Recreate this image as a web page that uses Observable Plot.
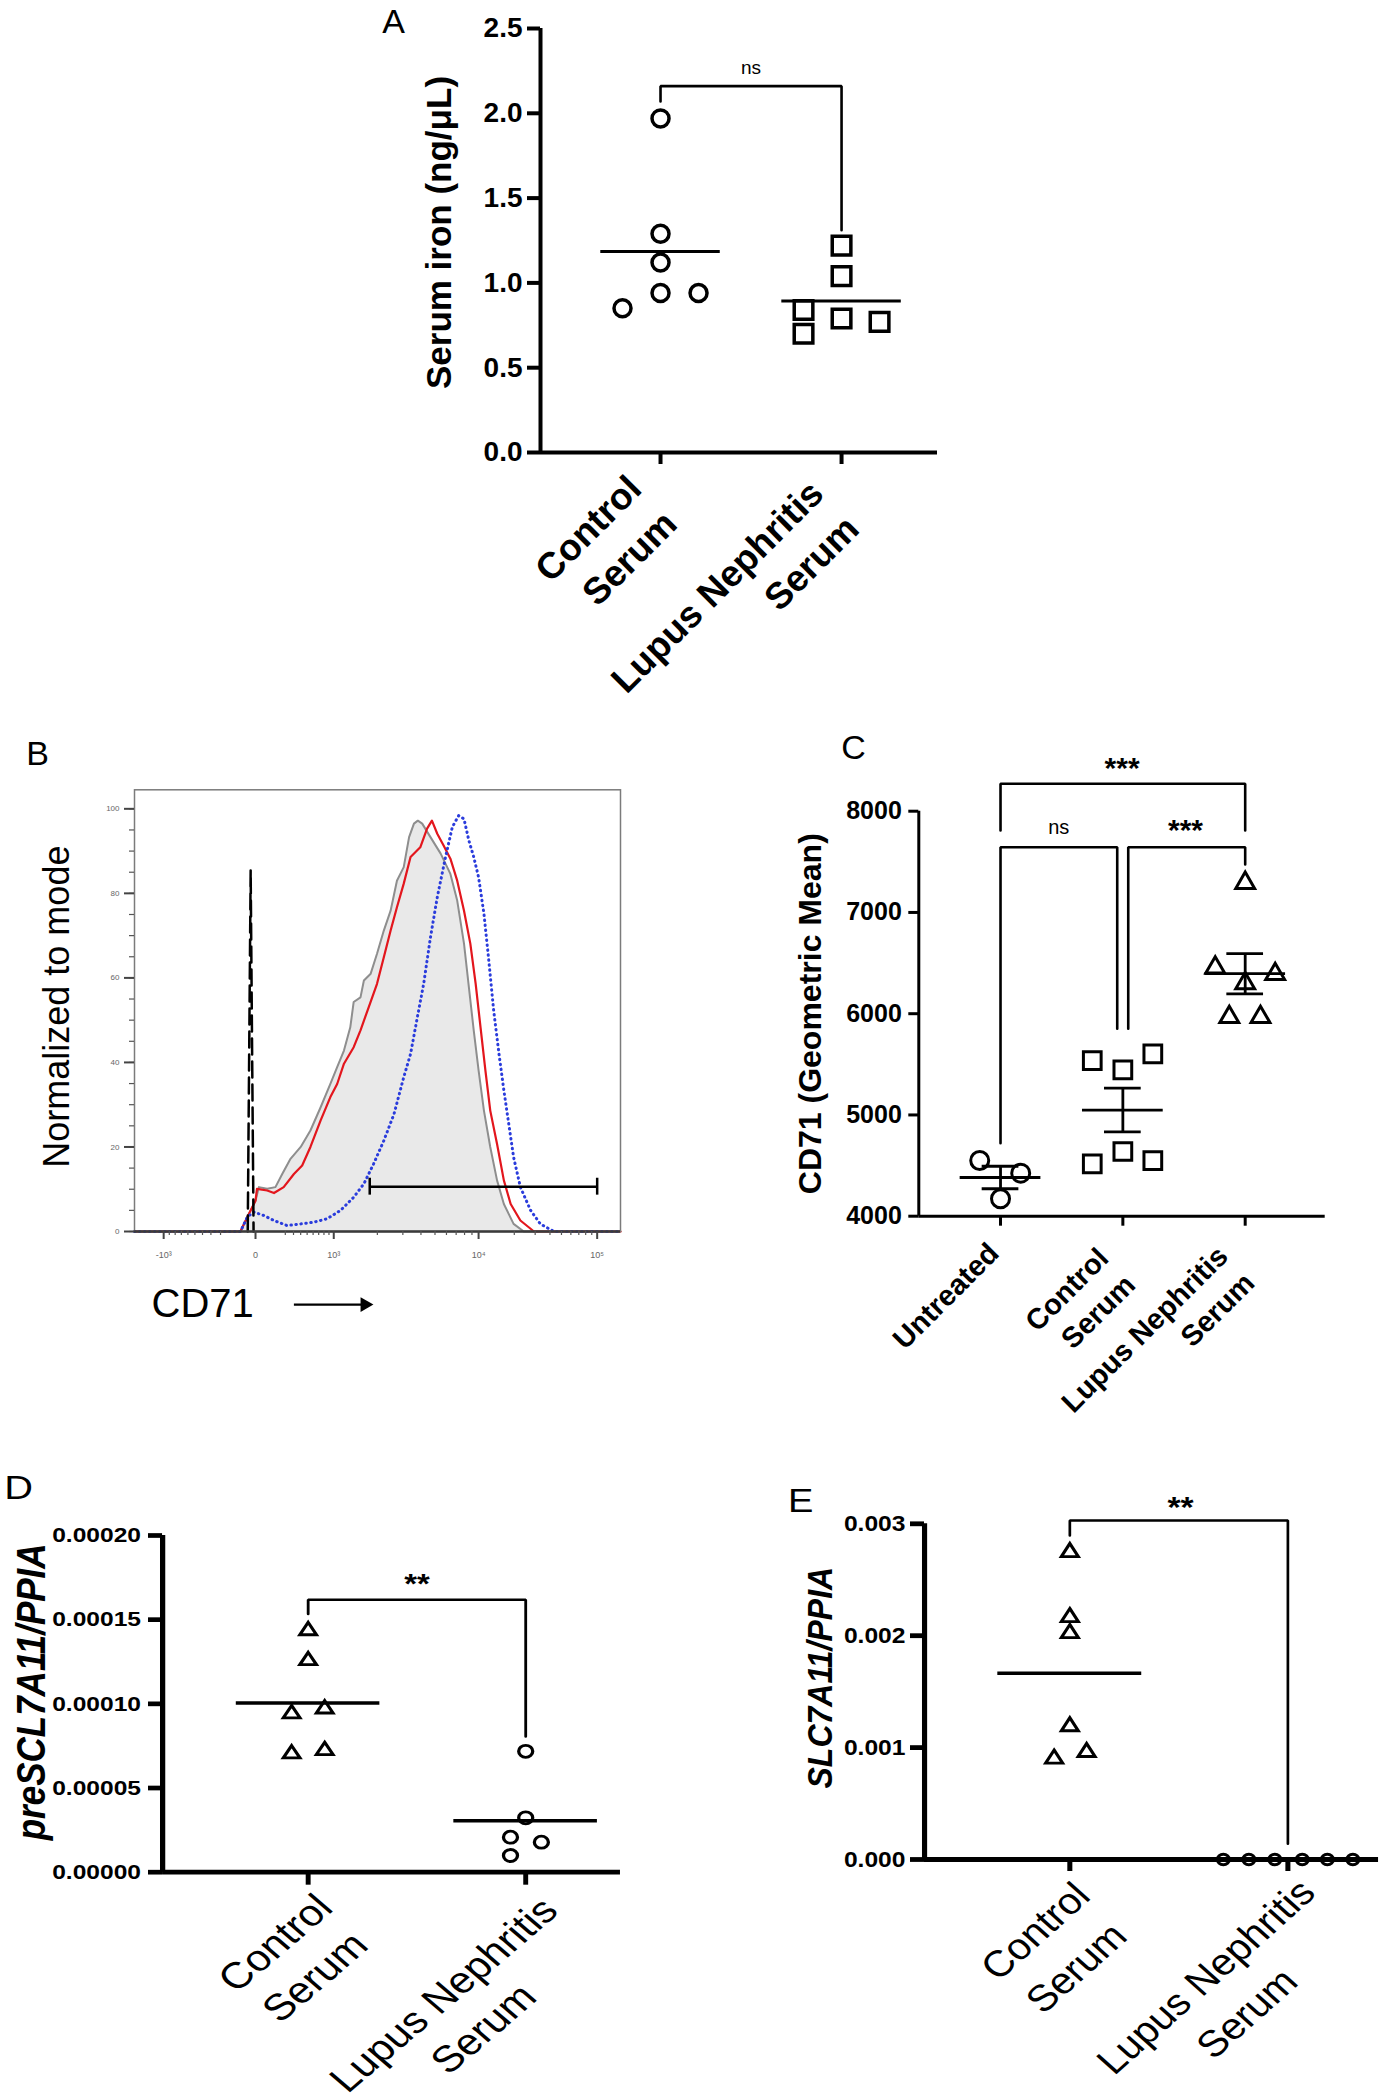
<!DOCTYPE html>
<html>
<head>
<meta charset="utf-8">
<script src="https://cdn.jsdelivr.net/npm/d3@7"></script>
<script src="https://cdn.jsdelivr.net/npm/@observablehq/plot@0.6"></script>
<style>
  body { margin: 0; background: #fff; }
  #fig { position: relative; width: 1386px; height: 2100px; background: #fff; overflow: hidden; }
  .panel { position: absolute; transform-origin: 0 0; }
</style>
</head>
<body>
<div id="fig"></div>
<script>
// ================= DATA =================
// Panel A – serum iron
const aCategories = ["Control\nSerum", "Lupus Nephritis\nSerum"];
const aControl = [1.97, 1.29, 1.12, 0.94, 0.94, 0.85];
const aControlDodge = [0, 0, 0, 0, 0.21, -0.21];
const aLupus = [1.22, 1.04, 0.79, 0.84, 0.70, 0.77];
const aLupusDodge = [0, 0, 0, -0.21, -0.21, 0.21];
const aYTicks = [0, 0.5, 1.0, 1.5, 2.0, 2.5];
const aSig = [{label: "ns", from: 1, to: 2, level: 2.16, ends: [2.07, 1.31], at: [1.5, 2.27]}];

// Panel B – CD71 histograms (x in display channel 0–1000, y in % of mode)
const bUntreated = [[0,0],[218,0],[232,3.4],[249,7.3],[256,10.5],[273,10.1],[290,10.5],[304,13.6],[321,17.2],[342,20.0],[362,23.9],[383,29.4],[403,34.9],[417,38.9],[431,42.8],[444,48.3],[451,54.3],[465,55.4],[472,59.4],[486,61.0],[499,65.7],[513,71.2],[527,75.9],[540,83.0],[554,86.2],[565,93.3],[575,96.5],[583,97.2],[592,96.5],[609,93.3],[630,89.4],[650,84.6],[664,78.3],[678,68.1],[688,57.8],[698,47.6],[708,38.1],[719,28.6],[732,20.0],[746,12.1],[760,6.5],[780,1.8],[801,0],[1000,0]];
const bControlSerum = [[0,0],[218,0],[232,3.4],[249,7.3],[252,10.1],[273,9.7],[287,9.1],[307,10.5],[328,13.6],[345,15.6],[362,20.0],[383,26.3],[403,31.8],[417,34.9],[431,39.7],[451,43.6],[465,47.6],[482,53.1],[499,58.6],[513,64.9],[527,71.2],[540,76.7],[554,82.3],[568,88.6],[588,90.9],[602,95.3],[612,97.2],[623,94.1],[636,91.3],[650,88.2],[664,83.0],[678,75.9],[691,68.1],[702,58.6],[712,48.3],[722,38.1],[732,28.6],[746,20.7],[760,12.1],[774,6.5],[794,2.6],[822,0],[1000,0]];
const bLupusSerum = [[0,0],[218,0],[232,3.4],[245,4.6],[266,3.8],[287,2.6],[314,1.4],[342,1.8],[369,2.2],[396,3.0],[424,5.0],[451,8.1],[472,11.3],[492,16.0],[513,21.5],[534,27.8],[554,36.5],[568,42.0],[582,50.7],[595,58.6],[609,69.6],[623,79.1],[640,88.6],[654,95.7],[667,98.4],[678,97.6],[688,92.5],[698,88.6],[708,83.8],[719,75.2],[729,64.1],[739,52.3],[750,42.0],[760,33.4],[770,25.5],[780,17.6],[794,10.5],[815,5.0],[835,1.8],[863,0],[1000,0]];
const bUnstained = [[233,0],[239,85.4],[245,0]];
const bGate = {x1: 484, x2: 952, y: 10.6};
const bXTicks = [60, 249, 410, 708, 952];
const bXTickLabels = ["-10³", "0", "10³", "10⁴", "10⁵"];
const bYTicks = [0, 20, 40, 60, 80, 100];

// Panel C – CD71 geometric mean
const cCategories = ["Untreated", "Control\nSerum", "Lupus Nephritis\nSerum"];
const cUntreated = [4550, 4425, 4172];
const cUntreatedDodge = [-0.17, 0.165, 0];
const cControl = [5537, 5445, 5603, 4517, 4639, 4550];
const cControlDodge = [-0.25, 0, 0.245, -0.25, 0, 0.245];
const cLupus = [7291, 6456, 6391, 6299, 5967, 5967];
const cLupusDodge = [0, -0.245, 0.245, 0, -0.13, 0.125];
const cYTicks = [4000, 5000, 6000, 7000, 8000];
const cSig = [
  {label: "***", from: 1, to: 3, level: 8271, ends: [7809, 7809], at: [1.994, 8434]},
  {label: "ns", from: 1, to: 1.954, level: 7644, ends: [4721, 5851], at: [1.476, 7842]},
  {label: "***", from: 2.044, to: 3, level: 7644, ends: [5851, 7474], at: [2.512, 7829]}
];

// Panel D – preSCL7A11/PPIA
const dCategories = ["Control\nSerum", "Lupus Nephritis\nSerum"];
const dControl = [0.0001435, 0.0001257, 0.0000941, 0.0000970, 0.0000703, 0.0000723];
const dControlDodge = [0, 0, -0.076, 0.076, -0.076, 0.076];
const dLupus = [0.0000718, 0.0000323, 0.0000208, 0.0000178, 0.0000099];
const dLupusDodge = [0, 0, -0.07, 0.072, -0.07];
const dYTicks = [0, 0.00005, 0.0001, 0.00015, 0.0002];
const dSig = [{label: "**", from: 1, to: 2, level: 0.0001618, ends: [0.0001534, 0.0000806], at: [1.5, 0.0001722]}];

// Panel E – SLC7A11/PPIA
const eCategories = ["Control\nSerum", "Lupus Nephritis\nSerum"];
const eControl = [0.002746, 0.002165, 0.002022, 0.001189, 0.000900, 0.000959];
const eControlDodge = [0, 0, 0, 0, -0.072, 0.077];
const eLupus = [0, 0, 0, 0, 0, 0];
const eLupusDodge = [-0.296, -0.179, -0.06, 0.066, 0.181, 0.298];
const eYTicks = [0, 0.001, 0.002, 0.003];
const eSig = [{label: "**", from: 1, to: 2, level: 0.003029, ends: [0.002896, 0.00014], at: [1.508, 0.003164]}];

// ================= HELPERS =================
const FONT = '"Liberation Sans", Arial, Helvetica, sans-serif';
const STYLE = {fontFamily: FONT, color: "black", background: "transparent", overflow: "visible"};
const fig = document.getElementById("fig");
// place a plot; sx = horizontal stretch of the panel (the source figure's lower panels are widened)
function place(svg, left, top, innerWidth, height, sx = 1) {
  const div = document.createElement("div");
  div.className = "panel";
  Object.assign(div.style, {left: left + "px", top: top + "px", width: innerWidth + "px", height: height + "px"});
  if (sx !== 1) div.style.transform = `scaleX(${sx})`;
  div.appendChild(svg);
  fig.appendChild(div);
}
const ctx = document.createElement("canvas").getContext("2d");
function textWidth(s, size, weight) { ctx.font = `${weight} ${size}px ${FONT}`; return ctx.measureText(s).width; }

function sigMarks(sig, sw, nsSize, starSize) {
  const marks = [];
  for (const s of sig) {
    const pts = [[s.from, s.ends[0]], [s.from, s.level], [s.to, s.level], [s.to, s.ends[1]]];
    marks.push(Plot.line(pts, {x: d => d[0], y: d => d[1], stroke: "black", strokeWidth: sw, strokeLinejoin: "miter"}));
    const star = s.label.includes("*");
    marks.push(Plot.text([s.label], {x: () => s.at[0], y: () => s.at[1],
      fontSize: star ? starSize : nsSize, fontWeight: star ? "bold" : "normal",
      dy: star ? 0.05 * starSize : 0}));
  }
  return marks;
}
function meanLine(values, cx, hw, sw) {
  return Plot.ruleY([d3.mean(values)], {x1: cx - hw, x2: cx + hw, strokeWidth: sw});
}
function meanSem(values, cx, hw, capHw, sw) {
  const m = d3.mean(values), sem = d3.deviation(values) / Math.sqrt(values.length);
  return [
    Plot.ruleY([m], {x1: cx - hw, x2: cx + hw, strokeWidth: sw}),
    Plot.ruleY([m - sem, m + sem], {x1: cx - capHw, x2: cx + capHw, strokeWidth: sw}),
    Plot.ruleX([cx], {y1: m - sem, y2: m + sem, strokeWidth: sw})
  ];
}
// Rotated (-45°) multi-line category labels; `ink` = top-right end of the first line relative to the tick (px)
function rotatedLabels(labels, yBase, {align, fontSize, fontWeight = "normal", lineHeight, ink}) {
  const d = [Math.SQRT1_2, -Math.SQRT1_2], n = [Math.SQRT1_2, Math.SQRT1_2];
  const err = [0.5 * fontSize, 0.3 * fontSize];
  const marks = [];
  labels.forEach((label, k) => {
    const lines = label.split("\n");
    const W = d3.max(lines, l => textWidth(l, fontSize, fontWeight));
    const back = align === "middle" ? W / 2 : 0;
    const ex = ink[k][0] - err[0], ey = ink[k][1] - err[1];
    lines.forEach((line, i) => {
      const off = i * lineHeight * fontSize;
      marks.push(Plot.text([line], {
        x: () => k + 1, y: () => yBase,
        dx: ex - d[0] * back + n[0] * off,
        dy: ey - d[1] * back + n[1] * off,
        rotate: -45, textAnchor: align, lineAnchor: "top", fontSize, fontWeight
      }));
    });
  });
  return marks;
}
const dot = (values, cx, dodge, symbol, r, sw) =>
  Plot.dot(values, {x: (d, i) => cx + dodge[i], y: d => d, symbol, r, stroke: "black", strokeWidth: sw, fill: "none"});
const letter = (s, dx, dy) => Plot.text([s], {frameAnchor: "top-left", textAnchor: "middle", lineAnchor: "middle", dx, dy, fontSize: 34});
const yTitle = (s, dx, dy, fontSize, extra = {}) =>
  Plot.text([s], {frameAnchor: "left", textAnchor: "middle", lineAnchor: "middle", rotate: -90, dx, dy, fontSize, fontWeight: "bold", ...extra});

// ================= PANEL A =================
const aX = [0.337, 2.53];
const plotA = Plot.plot({
  width: 590, height: 720, marginLeft: 170, marginRight: 23, marginTop: 28, marginBottom: 268,
  style: STYLE,
  x: {type: "linear", domain: aX},
  y: {type: "linear", domain: [0, 2.5]},
  marks: [
    Plot.axisY({ticks: aYTicks, tickFormat: d3.format(".1f"), tickSize: 13, tickPadding: 5, strokeWidth: 4, fontSize: 28, fontWeight: "bold", label: null}),
    Plot.axisX({ticks: [1, 2], tickFormat: () => "", tickSize: 12, strokeWidth: 4, label: null}),
    Plot.ruleX([aX[0]], {strokeWidth: 4}),
    Plot.ruleY([0], {strokeWidth: 4}),
    dot(aControl, 1, aControlDodge, "circle", 8.5, 3.5),
    dot(aLupus, 2, aLupusDodge, "square", 10.5, 3.5),
    meanLine(aControl, 1, 0.33, 3.2),
    meanLine(aLupus, 2, 0.33, 3.2),
    ...sigMarks(aSig, 2.6, 19, 28),
    yTitle("Serum iron (ng/μL)", -101, -8, 35),
    letter("A", -147, -6),
    ...rotatedLabels(aCategories, 0, {align: "end", fontSize: 37, fontWeight: "bold", lineHeight: 1.35, ink: [[-17, 31], [-16, 36]]})
  ]
});
place(plotA, 370, 0, 590, 720);

// ================= PANEL B =================
const bMinor = [];
for (let k = 2; k <= 9; ++k) {
  bMinor.push(410 + Math.log10(k) * (708 - 410));
  bMinor.push(708 + Math.log10(k) * (952 - 708));
  bMinor.push(249 + (410 - 249) * Math.pow(k / 10, 0.6));
  bMinor.push(249 - (249 - 60) * Math.pow(k / 10, 0.6));
}
const bLabel = new Map(bXTicks.map((t, i) => [t, bXTickLabels[i]]));
const plotB = Plot.plot({
  width: 660, height: 620, marginLeft: 134, marginRight: 40, marginTop: 69.3, marginBottom: 109,
  style: STYLE,
  x: {type: "linear", domain: [0, 1000]},
  y: {type: "linear", domain: [0, 104.5]},
  marks: [
    Plot.areaY(bUntreated, {x: d => d[0], y: d => d[1], fill: "#e9e9e9"}),
    Plot.line(bUntreated, {x: d => d[0], y: d => d[1], stroke: "#8e8e8e", strokeWidth: 2}),
    Plot.line(bControlSerum, {x: d => d[0], y: d => d[1], stroke: "#e3161d", strokeWidth: 2.2}),
    Plot.line(bLupusSerum, {x: d => d[0], y: d => d[1], stroke: "#2a3cdc", strokeWidth: 3, strokeDasharray: "0.5,4.5", strokeLinecap: "round"}),
    Plot.line(bUnstained, {x: d => d[0], y: d => d[1], stroke: "black", strokeWidth: 2.5, strokeDasharray: "16,7"}),
    Plot.ruleY([bGate.y], {x1: bGate.x1, x2: bGate.x2, strokeWidth: 2.5}),
    Plot.ruleX([bGate.x1, bGate.x2], {y1: bGate.y - 2, y2: bGate.y + 2, strokeWidth: 2.5}),
    Plot.frame({stroke: "#7b7b7b", strokeWidth: 1.5}),
    Plot.ruleY([0], {stroke: "#3a3a3a", strokeWidth: 2.5}),
    Plot.axisY({ticks: d3.range(0, 105, 5), tickFormat: () => "", tickSize: 5, stroke: "#555", strokeWidth: 1.2, label: null}),
    Plot.axisY({ticks: bYTicks, tickSize: 10, tickPadding: 5, stroke: "#444", strokeWidth: 2, fill: "#666", fontSize: 8, label: null}),
    Plot.axisX({ticks: bMinor, tickFormat: () => "", tickSize: 4, stroke: "#555", strokeWidth: 1.2, label: null}),
    Plot.axisX({ticks: bXTicks, tickFormat: d => bLabel.get(d), tickSize: 8, tickPadding: 12, stroke: "#444", strokeWidth: 2, fill: "#666", fontSize: 9, label: null}),
    Plot.text(["Normalized to mode"], {frameAnchor: "left", textAnchor: "middle", lineAnchor: "middle", rotate: -90, dx: -77, dy: -4, fontSize: 36}),
    letter("B", -97, -36),
    Plot.text(["CD71"], {frameAnchor: "bottom-left", textAnchor: "start", lineAnchor: "middle", dx: 17, dy: 73, fontSize: 40}),
    Plot.ruleY([-17.3], {x1: 329, x2: 468, strokeWidth: 2.2}),
    Plot.dot([[474, -17.3]], {x: d => d[0], y: d => d[1], symbol: "triangle", rotate: 90, r: 5.5, fill: "black"})
  ]
});
place(plotB, 0, 720, 660, 620);

// ================= PANEL C =================
const cX = [0.332, 3.654];
const plotC = Plot.plot({
  width: 626, height: 680, marginLeft: 158.3, marginRight: 61.3, marginTop: 90.7, marginBottom: 184.3,
  style: STYLE,
  x: {type: "linear", domain: cX},
  y: {type: "linear", domain: [4000, 8000]},
  marks: [
    Plot.axisY({ticks: cYTicks, tickFormat: d3.format("d"), tickSize: 10, tickPadding: 7, strokeWidth: 3, fontSize: 25, fontWeight: "bold", label: null}),
    Plot.axisX({ticks: [1, 2, 3], tickFormat: () => "", tickSize: 10, strokeWidth: 3, label: null}),
    Plot.ruleX([cX[0]], {strokeWidth: 3}),
    Plot.ruleY([4000], {strokeWidth: 3}),
    dot(cUntreated, 1, cUntreatedDodge, "circle", 9, 3),
    dot(cControl, 2, cControlDodge, "square", 10, 3),
    dot(cLupus, 3, cLupusDodge, "triangle", 7, 3),
    ...meanSem(cUntreated, 1, 0.33, 0.15, 2.8),
    ...meanSem(cControl, 2, 0.33, 0.15, 2.8),
    ...meanSem(cLupus, 3, 0.33, 0.15, 2.8),
    ...sigMarks(cSig, 2.6, 20, 30),
    yTitle("CD71 (Geometric Mean)", -108, 0, 32),
    letter("C", -65.3, -62.7),
    ...rotatedLabels(cCategories, 4000, {align: "end", fontSize: 29, fontWeight: "bold", lineHeight: 1.3, ink: [[0, 33], [-12.7, 38], [-15.7, 36]]})
  ]
});
place(plotC, 760, 720, 626, 680);

// ================= PANEL D (widened ×1.17) =================
const sD = 1.17;
const dX = [0.331, 2.436];
const plotD = Plot.plot({
  width: 680 / sD, height: 680, marginLeft: 138.5, marginRight: 680 / sD - 529.9, marginTop: 115, marginBottom: 228.3,
  style: STYLE,
  x: {type: "linear", domain: dX},
  y: {type: "linear", domain: [0, 0.0002]},
  marks: [
    Plot.axisY({ticks: dYTicks, tickFormat: d3.format(".5f"), tickSize: 12, tickPadding: 6.5, strokeWidth: 4.7, fontSize: 21, fontWeight: "bold", label: null}),
    Plot.axisX({ticks: [1, 2], tickFormat: () => "", tickSize: 13, strokeWidth: 4.2, label: null}),
    Plot.ruleX([dX[0]], {strokeWidth: 4.5}),
    Plot.ruleY([0], {strokeWidth: 4.8}),
    dot(dControl, 1, dControlDodge, "triangle", 5.3, 2.8),
    dot(dLupus, 2, dLupusDodge, "circle", 6, 2.8),
    meanLine(dControl, 1, 0.33, 3.5),
    meanLine(dLupus, 2, 0.33, 3.5),
    ...sigMarks(dSig, 2.4, 20, 28),
    yTitle("preSCL7A11/PPIA", -111.5, -12, 35, {fontStyle: "italic"}),
    letter("D", -123, -47),
    ...rotatedLabels(dCategories, 0, {align: "middle", fontSize: 37, lineHeight: 1.3, ink: [[22.6, 30], [29.4, 33]]})
  ]
});
place(plotD, 0, 1420, 680 / sD, 680, sD);

// ================= PANEL E (widened ×1.12) =================
const sE = 1.12;
const eX = [0.3338, 2.416];
const plotE = Plot.plot({
  width: 686 / sE, height: 680, marginLeft: 200, marginRight: 686 / sE - 605.4, marginTop: 103.3, marginBottom: 241,
  style: STYLE,
  x: {type: "linear", domain: eX},
  y: {type: "linear", domain: [0, 0.003]},
  marks: [
    Plot.axisY({ticks: eYTicks, tickFormat: d3.format(".3f"), tickSize: 12.5, tickPadding: 4.5, strokeWidth: 4.8, fontSize: 22, fontWeight: "bold", label: null}),
    Plot.axisX({ticks: [1, 2], tickFormat: () => "", tickSize: 12, strokeWidth: 4.5, label: null}),
    Plot.ruleX([eX[0]], {strokeWidth: 4.6}),
    Plot.ruleY([0], {strokeWidth: 5}),
    dot(eControl, 1, eControlDodge, "triangle", 5.6, 2.9),
    dot(eLupus, 2, eLupusDodge, "circle", 5.3, 2.9),
    meanLine(eControl, 1, 0.33, 3.5),
    meanLine(eLupus, 2, 0.33, 3.5),
    ...sigMarks(eSig, 2.4, 20, 30),
    yTitle("SLC7A11/PPIA", -92.9, -14, 32, {fontStyle: "italic"}),
    letter("E", -110.7, -22.3),
    ...rotatedLabels(eCategories, 0, {align: "middle", fontSize: 37, lineHeight: 1.4, ink: [[20, 31], [26.3, 27.7]]})
  ]
});
place(plotE, 700, 1420, 686 / sE, 680, sE);
</script>
</body>
</html>
